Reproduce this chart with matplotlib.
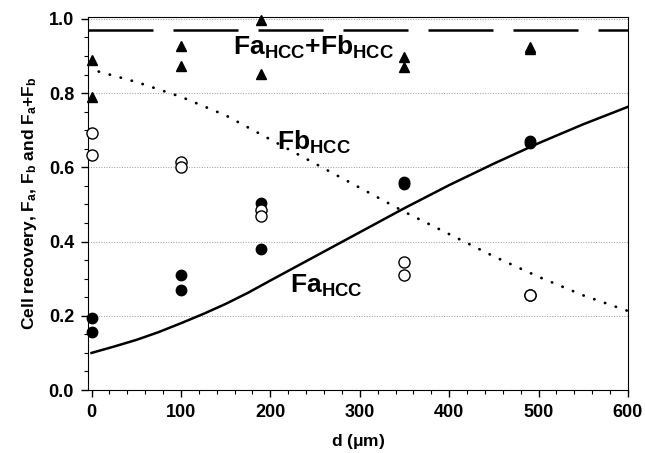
# cell recovery vs distance d, with model curves for Fa, Fb and Fa+Fb
import matplotlib
matplotlib.use('Agg')
import matplotlib.pyplot as plt
from matplotlib.ticker import MultipleLocator, FormatStrFormatter

plt.rcParams['font.family'] = ['Liberation Sans', 'DejaVu Sans']
plt.rcParams['font.weight'] = 'bold'
plt.rcParams['mathtext.fontset'] = 'custom'
plt.rcParams['mathtext.rm'] = 'Liberation Sans:bold'
plt.rcParams['mathtext.it'] = 'Liberation Sans:bold'
plt.rcParams['mathtext.bf'] = 'Liberation Sans:bold'

# measured points
d_pts = [0, 0, 100, 100, 190, 190, 350, 350, 490, 490]
fa_pts = [0.195, 0.155, 0.31, 0.27, 0.505, 0.38, 0.56, 0.555, 0.67, 0.665]
fb_pts = [0.693, 0.633, 0.615, 0.602, 0.485, 0.468, 0.345, 0.31, 0.255, 0.255]
ftot_pts = [0.89, 0.79, 0.927, 0.873, 0.998, 0.852, 0.898, 0.871, 0.925, 0.92]

# model curves
d_fit = [0, 25, 50, 75, 100, 125, 150, 175, 200, 250, 300, 350, 400, 450, 500, 550, 600]
fa_fit = [0.10, 0.117, 0.135, 0.156, 0.18, 0.205, 0.232, 0.262, 0.295, 0.36, 0.425, 0.49,
          0.552, 0.61, 0.665, 0.716, 0.763]
d_fb = [8, 50, 100, 150, 200, 250, 300, 350, 400, 450, 500, 550, 600]
fb_fit = [0.858, 0.83, 0.79, 0.74, 0.675, 0.61, 0.545, 0.48, 0.42, 0.36, 0.305, 0.255, 0.213]
ftot_fit = 0.97

fig = plt.figure(figsize=(6.45, 4.53), dpi=100)
ax = fig.add_axes([0.1364, 0.139, 0.8372, 0.8235])

ax.axhline(ftot_fit, color='black', lw=1.8, linestyle=(0, (65 * 0.72 / 1.8, 20 * 0.72 / 1.8)), zorder=2)
ax.plot(d_fit, fa_fit, color='black', lw=1.8, zorder=2)
ax.plot(d_fb, fb_fit, color='black', lw=2.0, linestyle=(0, (0.1, 4)), dash_capstyle='round', zorder=2)

ax.plot(d_pts, ftot_pts, '^', color='black', markersize=7, zorder=3, clip_on=False)
ax.plot(d_pts, fa_pts, 'o', color='black', markersize=7.5, zorder=3, clip_on=False)
ax.plot(d_pts, fb_pts, 'o', mfc='white', mec='black', mew=1.0, markersize=8, zorder=3, clip_on=False)

ax.text(158, 0.903, r'Fa$_{\mathregular{HCC}}$+Fb$_{\mathregular{HCC}}$', fontsize=19, fontweight='bold', va='baseline')
ax.text(207, 0.647, r'Fb$_{\mathregular{HCC}}$', fontsize=19, fontweight='bold', va='baseline')
ax.text(222, 0.261, r'Fa$_{\mathregular{HCC}}$', fontsize=19, fontweight='bold', va='baseline')

ax.set_xlim(-4, 600)
ax.set_ylim(0, 1.005)
ax.xaxis.set_major_locator(MultipleLocator(100))
ax.xaxis.set_minor_locator(MultipleLocator(20))
ax.yaxis.set_major_locator(MultipleLocator(0.2))
ax.yaxis.set_minor_locator(MultipleLocator(0.05))
ax.yaxis.set_major_formatter(FormatStrFormatter('%.1f'))
ax.tick_params(which='major', direction='out', length=5, width=1, labelsize=13, pad=5)
ax.tick_params(which='minor', direction='out', length=3, width=0.8)
ax.grid(axis='y', which='major', color='#999999', linestyle=':', lw=0.7)

ax.set_xlabel(r'd ($\mathregular{\mu}$m)', fontsize=12.5, fontweight='bold', labelpad=8)
ax.set_ylabel(r'Cell recovery, F$_\mathregular{a}$, F$_\mathregular{b}$ and F$_\mathregular{a}$+F$_\mathregular{b}$',
              fontsize=12.5, fontweight='bold', labelpad=7)

fig.savefig('out.png', dpi=100)
